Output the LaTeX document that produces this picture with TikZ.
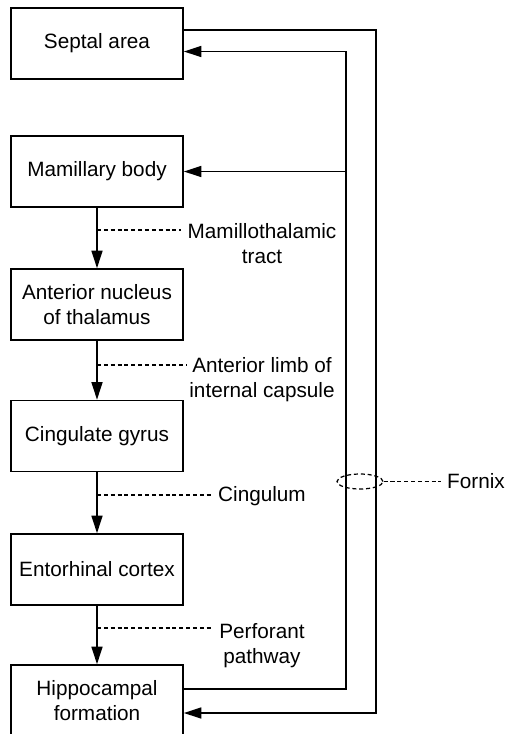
\documentclass[tikz,border=0pt]{standalone}
\usepackage{fontspec}
\setmainfont{Liberation Sans}
\usetikzlibrary{arrows.meta, positioning, shapes.geometric}

\begin{document}
\begin{tikzpicture}[
  regbox/.style={rectangle, draw=black, line width=0.95pt,
    minimum width=3.44cm, minimum height=1.42cm, align=center,
    font=\fontsize{11.8}{14.2}\selectfont, inner sep=2pt},
  lbl/.style={align=center, font=\fontsize{11.8}{14.2}\selectfont, inner sep=3.5pt},
  arr/.style={-{Triangle[length=3.5mm, width=2.2mm]}, draw=black, line width=0.95pt},
  dline/.style={draw=black, line width=0.7pt, dash pattern=on 2.3pt off 1.6pt}
]
\useasboundingbox (0,0) rectangle (10.12,-14.68);

%% --- Circuit boxes ---
\node[regbox] (sep) at (1.94,-0.87)  {Septal area};
\node[regbox] (mam) at (1.94,-3.43)  {Mamillary body};
\node[regbox] (ant) at (1.94,-6.09)  {Anterior nucleus\\of thalamus};
\node[regbox] (cin) at (1.94,-8.72)  {Cingulate gyrus};
\node[regbox] (ent) at (1.94,-11.39) {Entorhinal cortex};
\node[regbox] (hip) at (1.94,-14.01) {Hippocampal\\formation};

%% --- Main chain ---
\draw[arr] (mam)--(ant); \draw[arr] (ant)--(cin);
\draw[arr] (cin)--(ent); \draw[arr] (ent)--(hip);

%% --- Tract labels ---
\coordinate (t1) at (1.94,-4.60);
\coordinate (t2) at (1.94,-7.30);
\coordinate (t3) at (1.94,-9.90);
\coordinate (t4) at (1.94,-12.56);
\node[lbl] (mtt) at (5.24,-4.88)  {Mamillothalamic\\tract};
\node[lbl, inner sep=1pt] (alc) at (5.24,-7.60)  {Anterior limb of\\internal capsule};
\node[lbl] (cgm) at (5.24,-9.93)  {Cingulum};
\node[lbl] (pfp) at (5.24,-12.91) {Perforant\\pathway};
\draw[dline] (t1) -- (t1 -| mtt.west);
\draw[dline] (t2) -- (t2 -| alc.west);
\draw[dline] (t3) -- (t3 -| cgm.west);
\draw[dline] (t4) -- (t4 -| pfp.west);

%% --- Fornix (outer: septal -> hippocampus, inner: hippocampus -> septal / mamillary) ---
\draw[arr] ([yshift=0.27cm]sep.east) -- ++(3.84,0) |- ([yshift=-0.25cm]hip.east);
\draw[arr] ([yshift=0.23cm]hip.east) -- ++(3.24,0) coordinate (fxin) |- ([yshift=-0.16cm]sep.east);
\draw[arr] (mam.east -| fxin) -- (mam.east);

%% --- Fornix label ---
\node[ellipse, dline, minimum width=0.92cm, minimum height=0.3cm, inner sep=0pt]
  (fxr) at (7.2,-9.63) {};
\node[lbl] (fnx) at (9.52,-9.63) {Fornix};
\draw[dline] (fxr.east) -- (fxr.east -| fnx.west);

\end{tikzpicture}
\end{document}
